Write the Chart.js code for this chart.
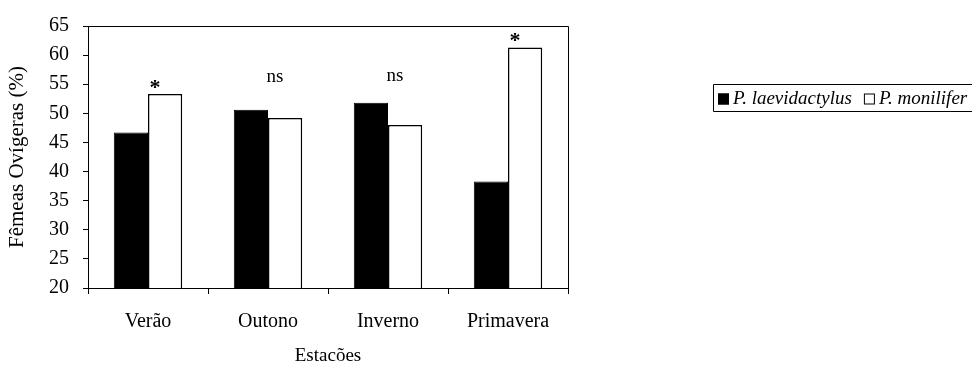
<!DOCTYPE html>
<html>
<head>
<meta charset="utf-8">
<script src="https://cdn.jsdelivr.net/npm/chart.js@4/dist/chart.umd.min.js"></script>
<style>
  html, body { margin: 0; padding: 0; background: #fff; }
  #wrap { width: 972px; height: 375px; }
</style>
</head>
<body>
<div id="wrap"><canvas id="chart" width="972" height="375"></canvas></div>
<script>
const seasons = ["Verão", "Outono", "Inverno", "Primavera"];
const laevidactylus = [46.7, 50.6, 51.8, 38.3];
const monilifer = [53.3, 49.2, 48.0, 61.3];
const sigLabels = ["*", "ns", "ns", "*"];
const sigY = [54.2, 55.4, 55.6, 62.2];
const yMin = 20;
const yMax = 65;
const yStep = 5;

const serif = "'Liberation Serif', 'Times New Roman', serif";

// asterisks / ns above each season
const sigPlugin = {
  id: "sig",
  afterDatasetsDraw(chart) {
    const ctx = chart.ctx;
    const x = chart.scales.x;
    const y = chart.scales.y;
    ctx.save();
    ctx.fillStyle = "#000";
    ctx.textAlign = "center";
    ctx.textBaseline = "alphabetic";
    sigLabels.forEach(function (s, i) {
      ctx.font = (s === "*" ? "bold 22px " : "19px ") + serif;
      const dy = s === "*" ? 5 : 0;
      ctx.fillText(s, x.getPixelForValue(i) + 7, y.getPixelForValue(sigY[i]) + dy);
    });
    ctx.restore();
  },
};

// box around plot + boxed legend on the right
const framePlugin = {
  id: "frame",
  afterDraw(chart) {
    const ctx = chart.ctx;
    const a = chart.chartArea;
    ctx.save();
    ctx.strokeStyle = "#000";
    ctx.lineWidth = 1;
    ctx.beginPath();
    ctx.moveTo(a.left, a.top + 0.5);
    ctx.lineTo(a.right + 0.5, a.top + 0.5);
    ctx.lineTo(a.right + 0.5, a.bottom);
    ctx.stroke();

    // legend
    const top = 84, bottom = 111, left = 713;
    ctx.beginPath();
    ctx.rect(left + 0.5, top + 0.5, 972, bottom - top);
    ctx.stroke();
    ctx.font = "italic 19px " + serif;
    ctx.textBaseline = "middle";
    ctx.textAlign = "left";
    let cx = left + 5;
    const cy = (top + bottom) / 2 + 1;
    chart.data.datasets.forEach(function (ds) {
      ctx.fillStyle = ds.backgroundColor;
      ctx.fillRect(cx, cy - 5, 11, 11);
      ctx.strokeStyle = "#000";
      ctx.strokeRect(cx + 0.5, cy - 4.5, 10, 10);
      ctx.fillStyle = "#000";
      ctx.fillText(ds.label, cx + 15, cy);
      cx += 15 + ctx.measureText(ds.label).width + 12;
    });
    ctx.restore();
  },
};

new Chart(document.getElementById("chart"), {
  type: "bar",
  data: {
    labels: seasons,
    datasets: [
      {
        label: "P. laevidactylus",
        data: laevidactylus,
        backgroundColor: "#000",
        borderColor: "#000",
        borderWidth: 1,
      },
      {
        label: "P. monilifer",
        data: monilifer,
        backgroundColor: "#fff",
        borderColor: "#000",
        borderWidth: 1.5,
      },
    ],
  },
  options: {
    responsive: false,
    animation: false,
    layout: { padding: { left: 0, top: 20, right: 404, bottom: 0 } },
    datasets: { bar: { categoryPercentage: 0.57, barPercentage: 1 } },
    plugins: {
      legend: { display: false },
      tooltip: { enabled: false },
    },
    scales: {
      x: {
        afterFit(scale) { scale.height = 87; },
        grid: { display: true, drawOnChartArea: false, drawTicks: true, tickLength: 6, color: "#000", offset: true },
        border: { display: true, color: "#000", width: 1 },
        ticks: { color: "#000", font: { family: serif, size: 20 }, padding: 16 },
        title: { display: true, text: "Estacões", color: "#000", font: { family: serif, size: 19 }, padding: { top: 4, bottom: 8 } },
      },
      y: {
        min: yMin,
        max: yMax,
        afterFit(scale) { scale.width = 88; },
        grid: { display: true, drawOnChartArea: false, drawTicks: true, tickLength: 5, color: "#000" },
        border: { display: true, color: "#000", width: 1 },
        ticks: { stepSize: yStep, color: "#000", font: { family: serif, size: 20 }, padding: 14 },
        title: { display: true, text: "Fêmeas Ovígeras (%)", color: "#000", font: { family: serif, size: 21 }, padding: { top: 5, bottom: 4 } },
      },
    },
  },
  plugins: [sigPlugin, framePlugin],
});
</script>
</body>
</html>
